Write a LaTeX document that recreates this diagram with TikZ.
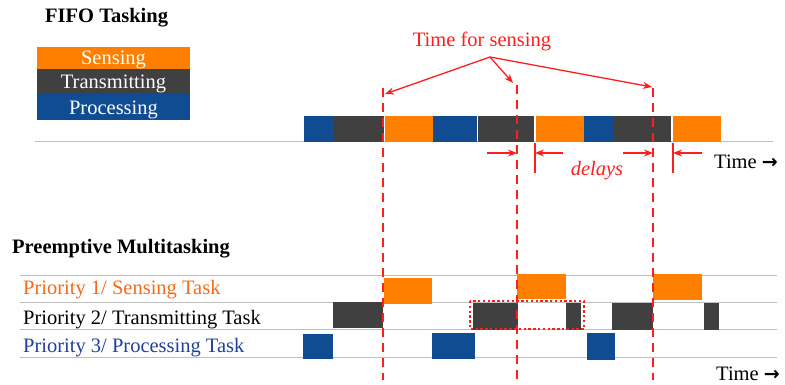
\documentclass[tikz,border=0pt]{standalone}
\usepackage{fontspec}
\setmainfont{Liberation Serif}
\newfontfamily\arrowfont{DejaVu Sans}
\usetikzlibrary{arrows.meta}
\definecolor{corange}{HTML}{FF8000}
\definecolor{cdark}{HTML}{404040}
\definecolor{cblue}{HTML}{0F4C92}
\definecolor{cred}{HTML}{FF1E1E}
\definecolor{cgrid}{HTML}{BFBFBF}
\definecolor{lblorange}{HTML}{F26A1B}
\definecolor{lblblue}{HTML}{21409A}
\begin{document}
\begin{tikzpicture}[x=1pt,y=-1pt,
  txt/.style={font=\fontsize{20.5}{24}\selectfont, inner sep=0pt},
  btxt/.style={font=\fontsize{20.5}{24}\selectfont\bfseries, inner sep=0pt},
  legbox/.style={minimum width=153pt, inner sep=0pt, outer sep=0pt},
  blk/.style={draw=white, line width=0.6pt},
  grid/.style={draw=cgrid, line width=1pt},
  vdash/.style={draw=cred, line width=1.3pt, dash pattern=on 9pt off 6pt},
  rarr/.style={draw=cred, line width=1.3pt, -{Stealth[length=9pt,width=7pt]}},
  rline/.style={draw=cred, line width=1.3pt}]
\useasboundingbox (0,0) rectangle (785,385);

% ---- FIFO title and legend
\node[btxt, anchor=base west] (fifo) at (45,23) {FIFO Tasking};
\node[legbox, fill=corange, minimum height=22pt] (lsens) at (113.5,58) {};
\node[legbox, fill=cdark, minimum height=25pt] (ltrans) at (113.5,81.5) {};
\node[legbox, fill=cblue, minimum height=26pt] (lproc) at (113.5,107) {};
\node[txt, text=white, anchor=base] (tsens) at (113.5,65) {Sensing};
\node[txt, text=white, anchor=base] (ttrans) at (113.5,89) {Transmitting};
\node[txt, text=white, anchor=base] (tproc) at (113.5,115) {Processing};

% ---- FIFO timeline
\coordinate (fa) at (35,142);
\coordinate (fb) at (773,142);
\draw[grid] (fa) -- (fb);
\fill[blk, cblue] (304,116) rectangle (332,141);
\fill[blk, cdark] (333,116) rectangle (383,141);
\fill[blk, corange] (385,116) rectangle (432,141);
\fill[blk, cblue] (433,116) rectangle (476,141);
\fill[blk, cdark] (478,116) rectangle (533,141);
\fill[blk, corange] (536,116) rectangle (583,141);
\fill[blk, cblue] (584,116) rectangle (613,141);
\fill[blk, cdark] (614,116) rectangle (670,141);
\fill[blk, corange] (673,116) rectangle (720,141);

% ---- dashed verticals
\coordinate (d1t) at (383,88);  \coordinate (d1b) at (383,380);
\coordinate (d2t) at (517,85);  \coordinate (d2b) at (517,380);
\coordinate (d3t) at (653,88);  \coordinate (d3b) at (653,380);

% ---- Time for sensing
\node[txt, text=cred, anchor=base] (tfs) at (482,47) {Time for sensing};
\coordinate (src) at (490,57);
\coordinate (a1) at (385,94);
\coordinate (a2) at (513,83);
\coordinate (a3) at (652,87);
\draw[rarr] (src) -- (a1);
\draw[rarr] (src) -- (a2);
\draw[rarr] (src) -- (a3);

% ---- delays
\coordinate (e1s) at (487,153); \coordinate (e1e) at (517,153);
\coordinate (e2s) at (563,153); \coordinate (e2e) at (535,153);
\coordinate (e3s) at (623,153); \coordinate (e3e) at (653,153);
\coordinate (e4s) at (702,153); \coordinate (e4e) at (673,153);
\draw[rarr] (e1s) -- (e1e);
\draw[rarr] (e2s) -- (e2e);
\draw[rarr] (e3s) -- (e3e);
\draw[rarr] (e4s) -- (e4e);
\coordinate (v1t) at (535,143); \coordinate (v1b) at (535,173);
\coordinate (v2t) at (673,143); \coordinate (v2b) at (673,173);
\draw[rline] (v1t) -- (v1b);
\draw[rline] (v2t) -- (v2b);
\node[txt, text=cred, font=\fontsize{20.5}{24}\selectfont\itshape, anchor=base] (dly) at (597,176) {delays};
\node[txt, anchor=base west] (time1) at (714,169) {Time {\arrowfont\bfseries\fontsize{19}{20}\selectfont →}};

% ---- Preemptive section
\node[btxt, anchor=base west] (pre) at (12,253) {Preemptive Multitasking};
\coordinate (g1a) at (20,275); \coordinate (g1b) at (777,275);
\coordinate (g2a) at (20,302); \coordinate (g2b) at (777,302);
\coordinate (g3a) at (20,329); \coordinate (g3b) at (777,329);
\coordinate (g4a) at (20,357); \coordinate (g4b) at (777,357);
\draw[grid] (g1a) -- (g1b);
\draw[grid] (g2a) -- (g2b);
\draw[grid] (g3a) -- (g3b);
\draw[grid] (g4a) -- (g4b);
\node[txt, text=lblorange, anchor=base west] (p1) at (23,294) {Priority 1/ Sensing Task};
\node[txt, text=black, anchor=base west] (p2) at (23,324) {Priority 2/ Transmitting Task};
\node[txt, text=lblblue, anchor=base west] (p3) at (23,352) {Priority 3/ Processing Task};

\fill[blk, cblue] (303,334) rectangle (332,358);
\fill[blk, cdark] (333,302) rectangle (382,327);
\fill[blk, corange] (384,278) rectangle (431,303);
\fill[blk, cblue] (432,333) rectangle (474,358);
\fill[blk, cdark] (473,303) rectangle (517,329);
\fill[blk, corange] (517,274) rectangle (565,298);
\fill[blk, cdark] (566,303) rectangle (580,329);
\fill[blk, cblue] (587,333) rectangle (614,359);
\fill[blk, cdark] (612,303) rectangle (652,329);
\fill[blk, corange] (653,274) rectangle (701,299);
\fill[blk, cdark] (704,303) rectangle (718,329);

\draw[vdash] (d1t) -- (d1b);
\draw[vdash] (d2t) -- (d2b);
\draw[vdash] (d3t) -- (d3b);

\draw[cred, line width=2.4pt, dash pattern=on 2.4pt off 2.4pt] (470,301) rectangle (584,329);
\node[txt, anchor=base west] (time2) at (716,380) {Time {\arrowfont\bfseries\fontsize{19}{20}\selectfont →}};
\end{tikzpicture}
\end{document}
